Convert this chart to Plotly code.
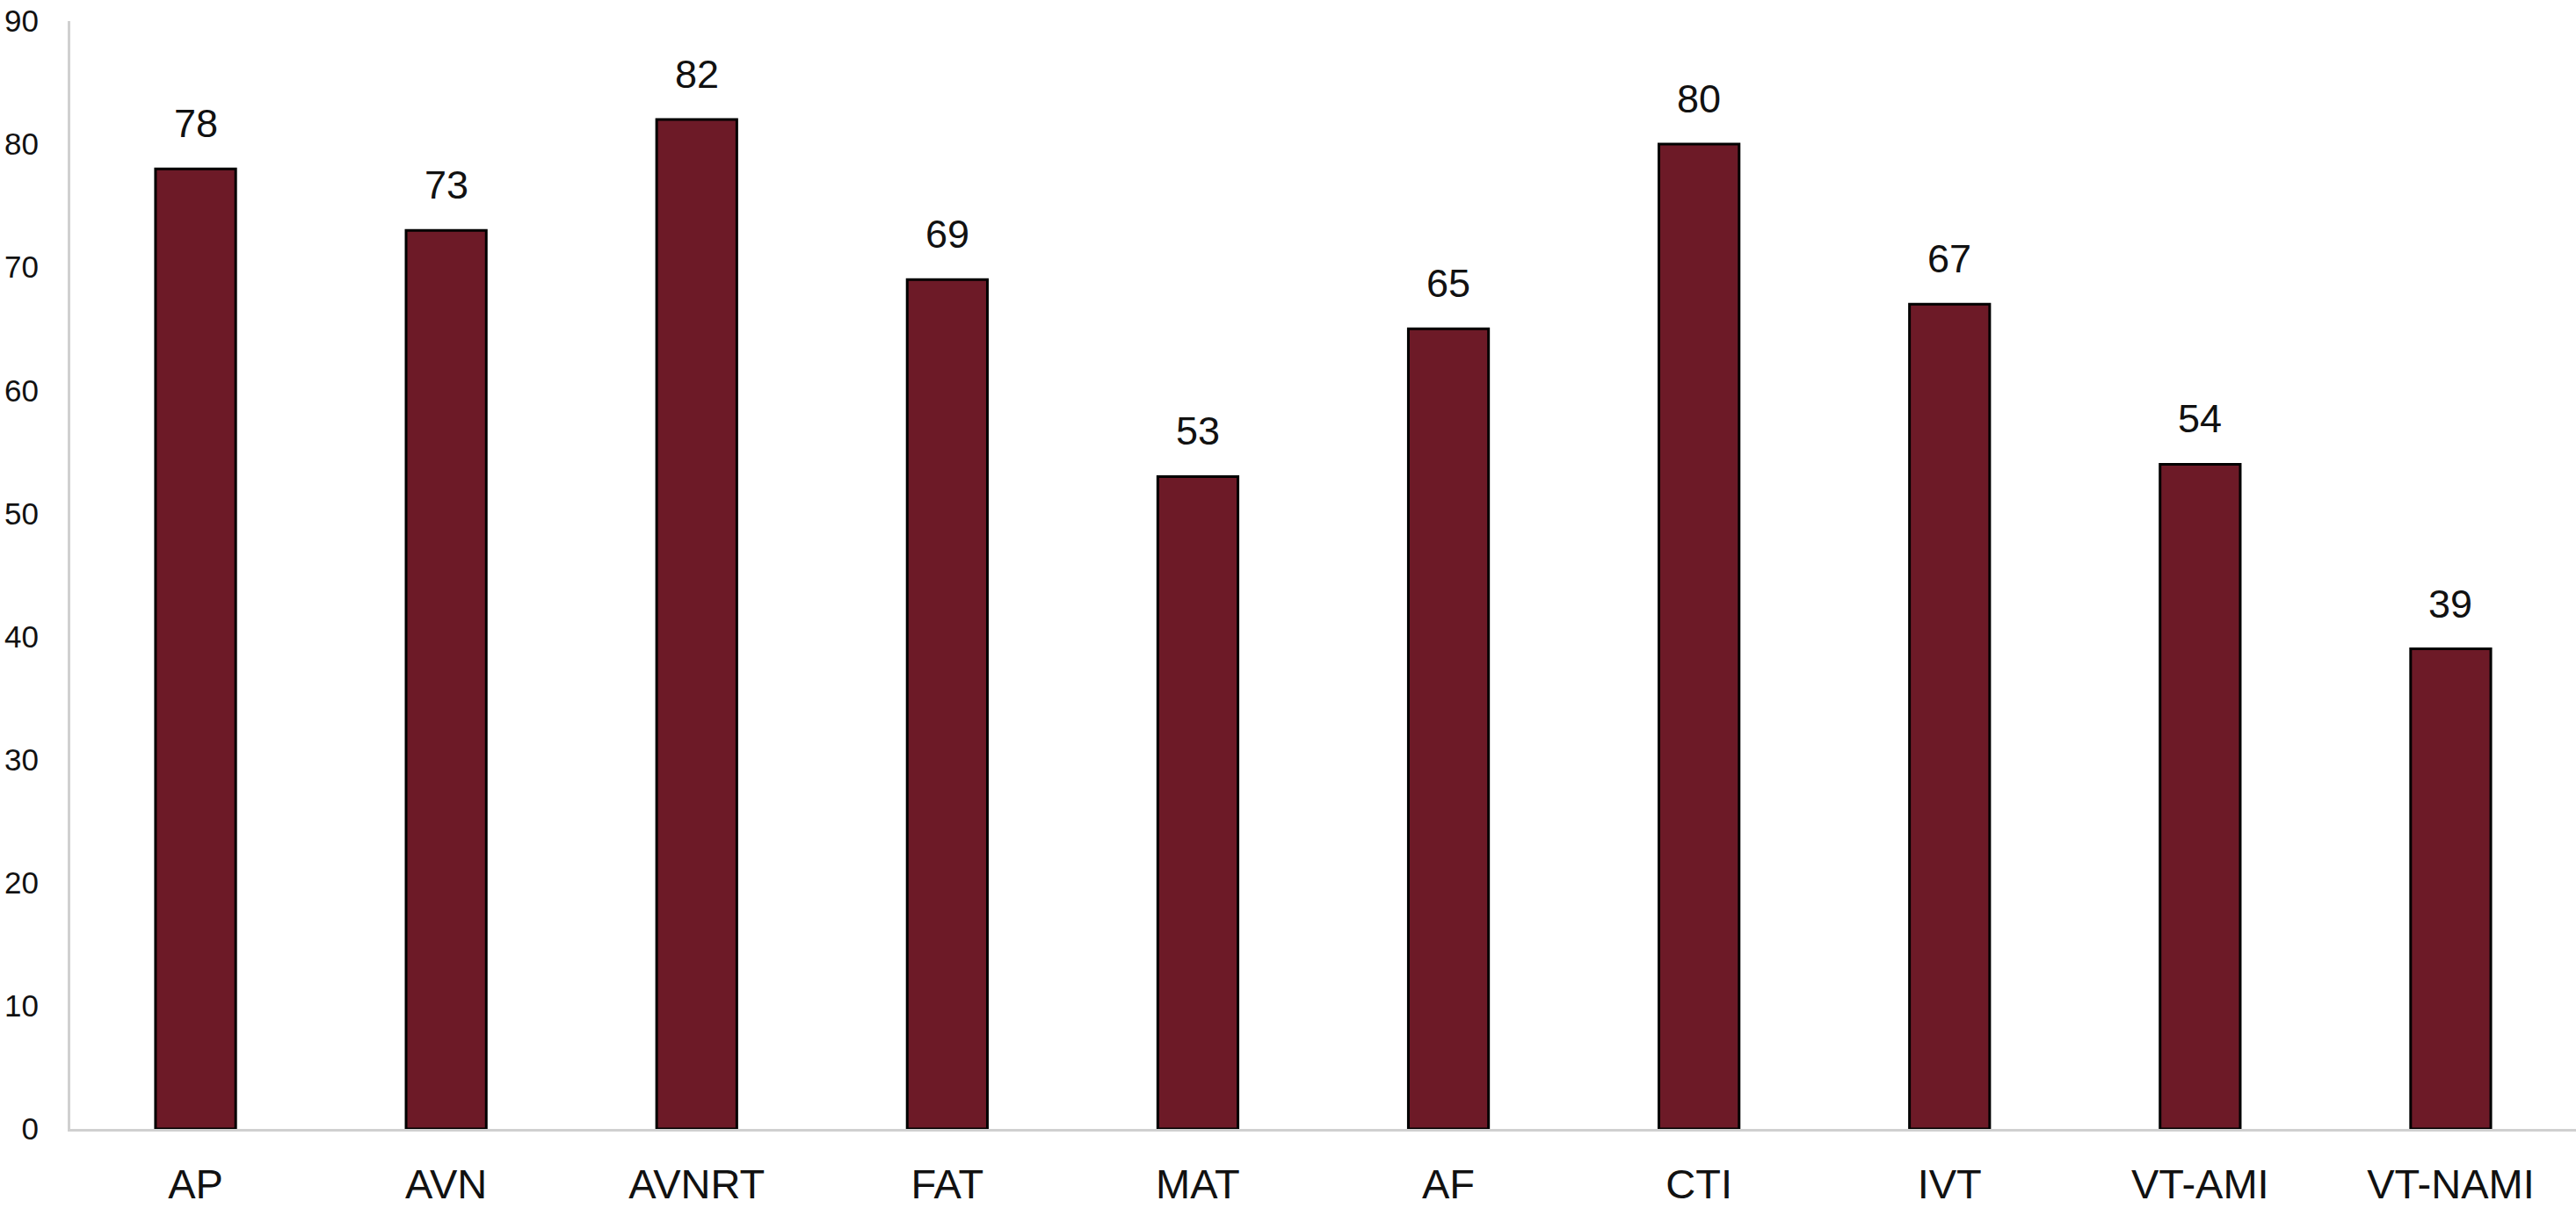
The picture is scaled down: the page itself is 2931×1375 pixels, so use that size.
import plotly.graph_objects as go

# 카테고리와 값
categories = ['AP', 'AVN', 'AVNRT', 'FAT', 'MAT', 'AF', 'CTI', 'IVT', 'VT-AMI', 'VT-NAMI']
values = [78, 73, 82, 69, 53, 65, 80, 67, 54, 39]
y_ticks = [0, 10, 20, 30, 40, 50, 60, 70, 80, 90]

BAR_COLOR = '#6D1A27'
AXIS_COLOR = '#D0D0D0'
FONT = 'Liberation Sans, Arial, sans-serif'

fig = go.Figure(go.Bar(
    x=categories,
    y=values,
    marker=dict(color=BAR_COLOR, line=dict(color='#000000', width=3)),
    width=0.32,
))

# 막대 위 값 라벨
for c, v in zip(categories, values):
    fig.add_annotation(
        x=c, y=v, text=str(v), showarrow=False,
        yanchor='bottom', yshift=24,
        font=dict(family=FONT, size=45, color='#111111'),
    )

fig.update_layout(
    width=2931,
    height=1375,
    plot_bgcolor='white',
    paper_bgcolor='white',
    showlegend=False,
    margin=dict(t=24, b=90, l=80, r=0),
    font=dict(family=FONT, color='#111111'),
)

fig.update_xaxes(
    automargin=False,
    showline=True, linecolor=AXIS_COLOR, linewidth=3,
    showgrid=False, ticks='',
    tickfont=dict(size=47),
    ticklabelstandoff=20,
)
fig.update_yaxes(
    automargin=False,
    range=[0, 90], tickvals=y_ticks,
    showline=True, linecolor=AXIS_COLOR, linewidth=3,
    showgrid=False, zeroline=False, ticks='',
    tickfont=dict(size=35),
    ticklabelstandoff=26,
    ticklabeloverflow='allow',
)

# body 기본 여백 제거 (차트가 창 전체를 채우도록)
fig.write_html(
    "out.html",
    config={'displayModeBar': False},
    post_script="document.body.style.margin='0';",
)
